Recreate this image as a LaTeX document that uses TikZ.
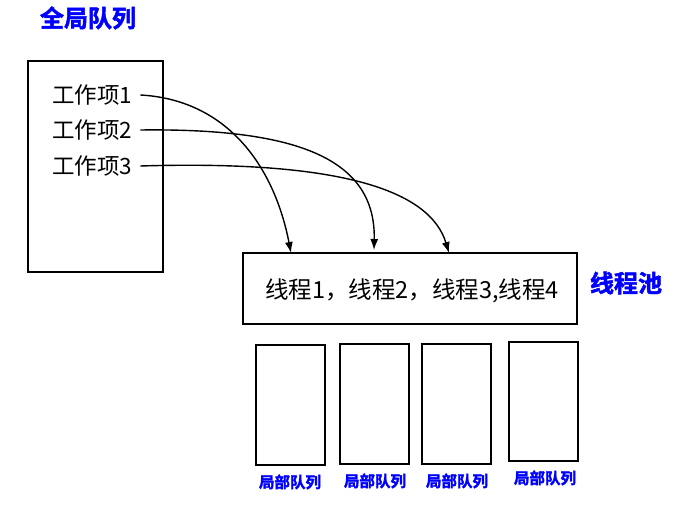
\documentclass[tikz,border=0pt]{standalone}
\usepackage{fontspec}
\newfontfamily\cjk{Noto Sans CJK SC}[BoldFont={* Bold},BoldFeatures={FakeBold=2}]
\usetikzlibrary{arrows.meta}
\begin{document}
\begin{tikzpicture}[x=1pt,y=-1pt,
  box/.style={draw,line width=1.5pt},
  item/.style={font=\cjk\fontsize{22.5}{24}\selectfont,inner sep=0pt,anchor=west},
  title/.style={font=\cjk\bfseries\fontsize{24}{26}\selectfont,text=blue,inner sep=0pt},
  small/.style={font=\cjk\bfseries\fontsize{15.5}{17}\selectfont,text=blue,inner sep=0pt},
  link/.style={line width=1.4pt,-{Latex[length=11pt,width=8pt]}}]
\useasboundingbox (0,0) rectangle (673,518);
\node[title] (gq) at (88,18) {全局队列};
\draw[box] (28,61) rectangle (163,272);
\node[item] (i1) at (52,95) {工作项1};
\node[item] (i2) at (52,130) {工作项2};
\node[item] (i3) at (52,166) {工作项3};
\node[box,minimum width=334pt,minimum height=71pt,inner sep=0pt] (pool) at (410,288.5) {};
\node[item,anchor=center,font=\cjk\fontsize{23.5}{25}\selectfont] (pt) at (412,291) {线程1，线程2，线程3,线程4};
\node[title] (tp) at (626,283) {线程池};
\coordinate (a1) at (291,253);
\coordinate (a2) at (374,250);
\coordinate (a3) at (449,253);
\draw[link] (i1.east) ++(8,0) .. controls (230,100) and (275,170) .. (a1);
\draw[link] (i2.east) ++(8,0) .. controls (300,128) and (376,160) .. (a2);
\draw[link] (i3.east) ++(8,0) .. controls (340,160) and (430,190) .. (a3);
\node[box,minimum width=69pt,minimum height=120pt,inner sep=0pt] (l1) at (290.5,405) {};
\node[box,minimum width=69pt,minimum height=120pt,inner sep=0pt] (l2) at (374.5,404) {};
\node[box,minimum width=69pt,minimum height=120pt,inner sep=0pt] (l3) at (456.5,404) {};
\node[box,minimum width=69pt,minimum height=119pt,inner sep=0pt] (l4) at (543.5,401.5) {};
\node[small] (q1) at (290,482) {局部队列};
\node[small] (q2) at (375,481) {局部队列};
\node[small] (q3) at (457,481) {局部队列};
\node[small] (q4) at (545,478) {局部队列};
\end{tikzpicture}
\end{document}
